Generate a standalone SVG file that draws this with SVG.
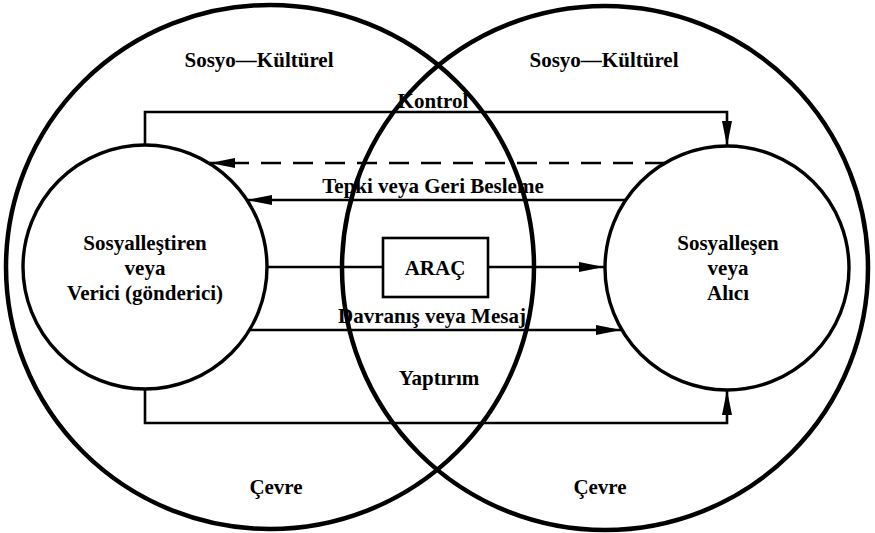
<svg xmlns="http://www.w3.org/2000/svg" width="875" height="533" viewBox="0 0 875 533">
  <style>
    .lbl { font-family: "Liberation Serif", "Times New Roman", serif; font-weight: bold; font-size: 21px; fill: #000; text-anchor: middle; }
    .outer { fill: none; stroke: #000; stroke-width: 4.5; }
    .inner { fill: none; stroke: #000; stroke-width: 3.4; }
    .conn { fill: none; stroke: #000; stroke-width: 2.6; }
    .dash { stroke-dasharray: 20 12; }
  </style>
  <defs>
    <marker id="arrow" markerUnits="userSpaceOnUse" markerWidth="26" markerHeight="12" refX="25" refY="5" orient="auto" viewBox="0 0 26 10">
      <path d="M0,0 L25,5 L0,10 z" fill="#000"/>
    </marker>
  </defs>

  <rect width="875" height="533" fill="#fff"/>

  <!-- two overlapping socio-cultural environments -->
  <g id="env-left">
    <ellipse class="outer" cx="270" cy="267" rx="264" ry="262"/>
    <text class="lbl" x="259" y="67">Sosyo—Kültürel</text>
    <text class="lbl" x="276" y="494">Çevre</text>
  </g>
  <g id="env-right">
    <ellipse class="outer" cx="605" cy="268" rx="263" ry="262"/>
    <text class="lbl" x="604" y="67">Sosyo—Kültürel</text>
    <text class="lbl" x="600" y="494">Çevre</text>
  </g>

  <!-- connectors -->
  <g id="connectors">
    <path class="conn" d="M145,146 V112 H727 V146" marker-end="url(#arrow)"/>
    <path class="conn dash" d="M665,163 H210" marker-end="url(#arrow)"/>
    <path class="conn" d="M627,200 H247" marker-end="url(#arrow)"/>
    <path class="conn" d="M267,267 H383"/>
    <path class="conn" d="M488,267 H604" marker-end="url(#arrow)"/>
    <path class="conn" d="M249,330 H621" marker-end="url(#arrow)"/>
    <path class="conn" d="M145,389 V423 H727 V390" marker-end="url(#arrow)"/>
  </g>

  <!-- connector labels -->
  <g id="labels">
    <text class="lbl" x="433" y="108">Kontrol</text>
    <text class="lbl" x="433" y="193">Tepki veya Geri Besleme</text>
    <text class="lbl" x="432" y="323">Davranış veya Mesaj</text>
    <text class="lbl" x="439" y="385">Yaptırım</text>
  </g>

  <g id="sender">
    <circle class="inner" cx="145" cy="267" r="122"/>
    <text class="lbl" x="145" y="250">Sosyalleştiren</text>
    <text class="lbl" x="145" y="275">veya</text>
    <text class="lbl" x="145" y="300">Verici (gönderici)</text>
  </g>

  <g id="receiver">
    <circle class="inner" cx="727" cy="268" r="122"/>
    <text class="lbl" x="728" y="250">Sosyalleşen</text>
    <text class="lbl" x="728" y="275">veya</text>
    <text class="lbl" x="728" y="300">Alıcı</text>
  </g>

  <g id="medium">
    <rect class="conn" x="383" y="238" width="105" height="59"/>
    <text class="lbl" x="435" y="275">ARAÇ</text>
  </g>
</svg>
